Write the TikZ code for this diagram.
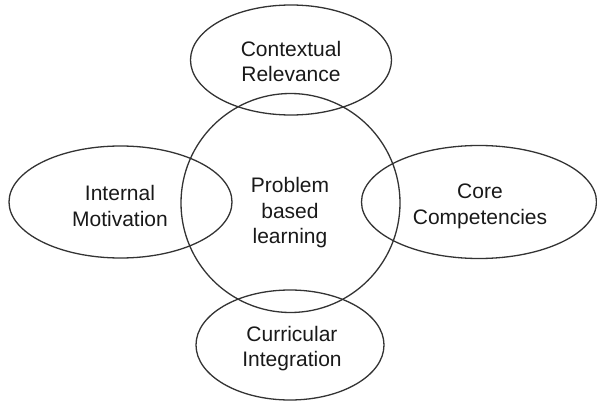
\documentclass[tikz,border=0pt]{standalone}
\usepackage{fontspec}
\setmainfont{Liberation Sans}
\usetikzlibrary{shapes.geometric}
\begin{document}
\begin{tikzpicture}[x=1pt,y=-1pt,
  bub/.style={draw=black!80, line width=1.3pt, ellipse, inner sep=0pt},
  lbl/.style={inner sep=0pt, align=center, font=\fontsize{21}{25.5}\selectfont, text=black!90},
]
\useasboundingbox (0,0) rectangle (597,401);
\node[bub, minimum width=219pt, minimum height=219pt] (pbl) at (290.5,203) {};
\node[bub, minimum width=201pt, minimum height=110pt] (ctx) at (291,60) {};
\node[bub, minimum width=223pt, minimum height=112pt] (int) at (120.5,202) {};
\node[bub, minimum width=235pt, minimum height=113pt] (core) at (479,202) {};
\node[bub, minimum width=188pt, minimum height=110pt] (cur) at (290,345) {};
\node[lbl] (pblt) at (290,213) {Problem\\based\\learning};
\node[lbl] (ctxt) at (291,61.5) {Contextual\\Relevance};
\node[lbl] (intt) at (120,206) {Internal\\Motivation};
\node[lbl] (coret) at (480,206.5) {Core\\Competencies};
\node[lbl] (curt) at (292,348.5) {Curricular\\Integration};
\end{tikzpicture}
\end{document}
